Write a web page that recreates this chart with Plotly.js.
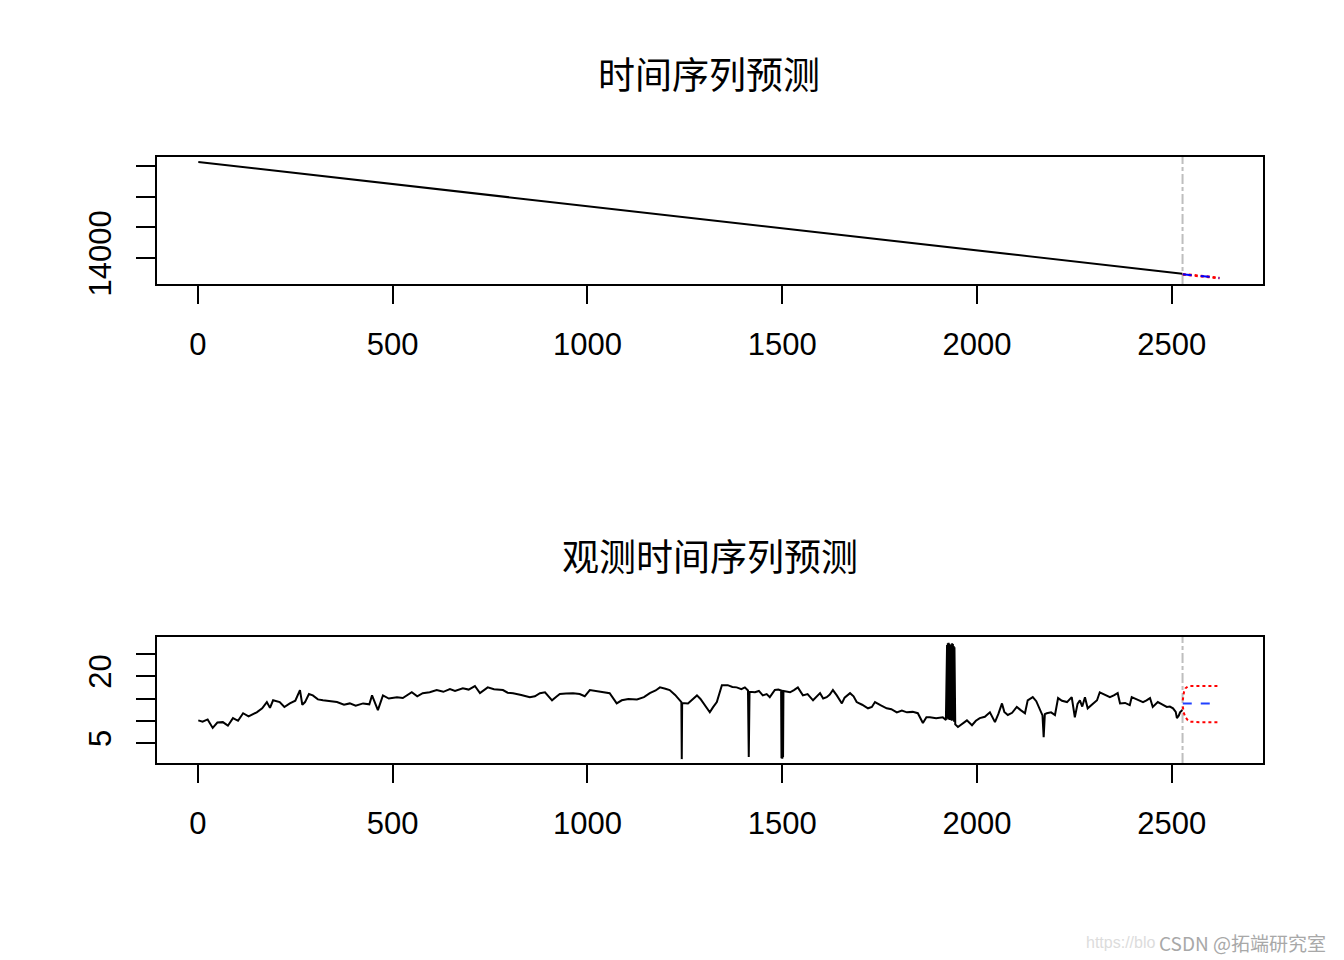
<!DOCTYPE html>
<html>
<head>
<meta charset="utf-8">
<script src="https://cdn.plot.ly/plotly-3.0.1.min.js"></script>
<style>
  html, body { margin: 0; padding: 0; background: #fff; }
  #chart { width: 1344px; height: 960px; }
</style>
</head>
<body>
<div id="chart"></div>
<script>
// top panel: the index series (falls almost in a straight line)
const topX = [1, 632, 1264, 1896, 2527];
const topY = [17130, 16220, 15310, 14400, 13490];
const topFcX = [2528, 2550, 2572, 2595, 2613, 2622];
const topFcMean = [13470, 13450, 13410, 13390, 13360, 13350];
const topFcUpper = [13482, 13462, 13422, 13402, 13372, 13362];
const topFcLower = [13458, 13438, 13398, 13378, 13348, 13338];

// bottom panel: observed series
const obsX = [1, 12, 25, 38, 50, 64, 77, 90, 103, 116, 130, 151, 165, 177, 185, 193,
  210, 222, 236, 250, 262, 268, 275, 285, 295, 308, 321, 340, 357, 375, 390, 405,
  424, 440, 447, 462, 475, 490, 511, 526, 540, 549, 563, 577, 595, 613, 630, 647,
  660, 680, 695, 711, 724, 744, 760, 783, 795, 809, 830, 852, 865, 878, 891, 909,
  920, 929, 945, 963, 980, 993, 1006, 1020, 1032, 1045, 1057, 1075, 1088, 1105, 1127, 1145,
  1160, 1175, 1186, 1200, 1211, 1225, 1236, 1241, 1242, 1243, 1258, 1270, 1281, 1290, 1296, 1305,
  1314, 1322, 1332, 1345, 1360, 1372, 1383, 1395, 1404, 1412, 1414, 1416, 1430, 1440, 1450, 1460,
  1468, 1481, 1490, 1497, 1498, 1499, 1500, 1501, 1502, 1503, 1520, 1530, 1540, 1553, 1565, 1579,
  1590, 1597, 1605, 1614, 1622, 1630, 1640, 1653, 1660, 1674, 1683, 1691, 1705, 1720, 1730, 1738,
  1752, 1768, 1780, 1794, 1807, 1820, 1835, 1848, 1861, 1870, 1879, 1895, 1912, 1920,
  1923, 1924, 1925, 1926, 1927, 1928, 1929, 1930, 1931, 1933, 1934, 1935, 1936, 1937, 1938, 1939,
  1940, 1941, 1942, 1944, 1951, 1962, 1974, 1987, 1997, 2007, 2020, 2033, 2040, 2046, 2055, 2064,
  2070, 2079, 2090, 2102, 2112, 2123, 2130, 2143, 2152, 2161, 2168, 2171, 2174, 2179, 2190, 2200,
  2208, 2218, 2231, 2243, 2251, 2258, 2264, 2270, 2277, 2284, 2295, 2308, 2315, 2328, 2341, 2351,
  2361, 2367, 2380, 2392, 2397, 2410, 2426, 2435, 2444, 2451, 2464, 2475, 2487, 2495, 2503, 2510,
  2513, 2518, 2521, 2527];
const obsY = [10.1, 9.8, 10.3, 8.4, 9.6, 9.7, 8.9, 10.6, 10.0, 11.7, 11.0, 11.9, 12.8, 14.2, 12.9, 14.6,
  14.2, 13.1, 13.9, 14.5, 16.9, 13.6, 14.2, 16.0, 15.7, 14.8, 14.6, 14.4, 14.2, 13.6, 13.9, 13.4,
  13.9, 13.7, 15.7, 12.4, 15.7, 15.0, 15.3, 15.1, 15.8, 16.4, 15.5, 16.2, 16.4, 16.9, 16.5, 17.1,
  16.7, 17.3, 17.0, 17.8, 16.2, 17.5, 17.1, 16.9, 16.3, 16.2, 15.8, 15.3, 15.5, 16.2, 16.4, 14.6,
  15.4, 16.0, 16.1, 16.2, 16.0, 15.5, 16.9, 16.7, 16.4, 16.3, 16.2, 13.9, 14.6, 14.9, 14.8, 15.3,
  16.2, 16.8, 17.5, 17.2, 16.9, 15.8, 14.6, 14.2, 1.4, 14.0, 13.9, 14.8, 15.7, 14.9, 14.2, 13.2,
  11.9, 13.0, 14.2, 18.0, 18.0, 17.6, 17.5, 17.1, 17.5, 16.8, 1.9, 16.5, 16.4, 16.7, 15.7, 16.0,
  15.3, 16.9, 17.0, 16.8, 1.6, 16.8, 1.5, 16.9, 1.8, 16.7, 16.4, 16.9, 17.5, 15.7, 16.0, 14.6,
  15.5, 16.2, 15.0, 15.3, 15.9, 16.9, 15.7, 13.9, 15.2, 16.2, 15.5, 14.2, 13.6, 12.8, 13.1, 14.2,
  13.5, 12.8, 12.6, 11.9, 12.3, 11.9, 12.0, 11.7, 9.5, 10.8, 10.8, 10.6, 10.8, 10.2,
  27.0, 10.5, 27.4, 10.3, 27.5, 10.6, 27.3, 10.2, 27.1, 10.4, 26.9, 10.0, 27.4, 10.3, 27.2, 10.1,
  26.8, 9.8, 26.5, 9.2, 8.6, 9.4, 10.1, 9.0, 10.0, 10.6, 10.9, 11.9, 10.8, 9.7, 11.6, 13.9,
  12.0, 11.3, 11.8, 13.1, 12.4, 11.7, 14.6, 15.3, 14.4, 12.4, 11.2, 6.3, 11.5, 11.7, 11.9, 11.3,
  15.1, 14.5, 14.2, 15.3, 10.8, 13.8, 14.6, 13.2, 15.3, 12.8, 13.6, 14.6, 16.4, 15.8, 15.3, 15.7,
  16.2, 13.9, 14.0, 13.5, 15.3, 14.8, 14.2, 14.6, 15.1, 13.1, 14.2, 13.7, 13.1, 13.2, 12.8, 12.0,
  10.6, 11.2, 11.9, 12.4];

// bottom panel: forecast mean and interval
const fcX = [2528, 2531, 2535, 2541, 2546, 2555, 2570, 2590, 2605, 2620];
const fcMean = [13.9, 13.9, 13.9, 13.9, 13.9, 13.9, 13.9, 13.9, 13.9, 13.9];
const fcUpper = [14.6, 16.4, 17.3, 17.7, 17.8, 17.8, 17.8, 17.8, 17.8, 17.8];
const fcLower = [13.2, 11.7, 10.8, 10.1, 9.8, 9.7, 9.7, 9.7, 9.7, 9.7];

const lastObs = 2527.5;
const xTicks = [0, 500, 1000, 1500, 2000, 2500];
const topYTicks = [14000, 15000, 16000, 17000];
const topYText = ['14000', '', '', ''];
const botYTicks = [5, 10, 15, 20, 25];
const botYText = ['5', '', '', '20', ''];

const tickFont = {family: 'Liberation Sans, Arial, sans-serif', size: 31, color: '#000'};
const titleFont = {family: 'Noto Sans CJK SC, sans-serif', size: 37, color: '#000'};

makeLine = (x, y, xa, ya, color, dash, width) => ({
  x: x, y: y, xaxis: xa, yaxis: ya,
  type: 'scatter', mode: 'lines', hoverinfo: 'skip',
  line: {color: color, dash: dash, width: width}
});

const traces = [
  makeLine(topX, topY, 'x', 'y', '#000', 'solid', 2),
  makeLine(topFcX, topFcUpper, 'x', 'y', '#ff0000', 'dot', 2),
  makeLine(topFcX, topFcLower, 'x', 'y', '#ff0000', 'dot', 2),
  makeLine(topFcX, topFcMean, 'x', 'y', '#0000ff', 'dash', 2),
  makeLine(obsX, obsY, 'x2', 'y2', '#000', 'solid', 2),
  makeLine(fcX, fcUpper, 'x2', 'y2', '#ff0000', 'dot', 2),
  makeLine(fcX, fcLower, 'x2', 'y2', '#ff0000', 'dot', 2),
  makeLine(fcX, fcMean, 'x2', 'y2', '#2040ff', 'dash', 2)
];

const xAxisBase = (anchor) => ({
  anchor: anchor,
  domain: [157 / 1344, 1263 / 1344],
  range: [-105, 2734],
  tickmode: 'array', tickvals: xTicks,
  ticks: 'outside', ticklen: 18, tickwidth: 2, tickcolor: '#000',
  ticklabelstandoff: 14,
  showline: true, linewidth: 2, linecolor: '#000', mirror: true,
  showgrid: false, zeroline: false,
  tickfont: tickFont
});

const yAxisBase = (anchor, domain, range, vals, text) => ({
  anchor: anchor,
  domain: domain,
  range: range,
  tickmode: 'array', tickvals: vals, ticktext: text,
  tickangle: -90,
  ticks: 'outside', ticklen: 19, tickwidth: 2, tickcolor: '#000',
  ticklabelstandoff: 13,
  showline: true, linewidth: 2, linecolor: '#000', mirror: true,
  showgrid: false, zeroline: false,
  tickfont: tickFont
});

const layout = {
  width: 1344, height: 960,
  margin: {l: 0, r: 0, t: 0, b: 0},
  paper_bgcolor: '#fff', plot_bgcolor: '#fff',
  showlegend: false,
  xaxis: xAxisBase('y'),
  yaxis: yAxisBase('x', [(960 - 284) / 960, (960 - 157) / 960], [13156, 17292], topYTicks, topYText),
  xaxis2: xAxisBase('y2'),
  yaxis2: yAxisBase('x2', [(960 - 763) / 960, (960 - 637) / 960], [0.53, 28.8], botYTicks, botYText),
  shapes: [
    {type: 'line', xref: 'x', yref: 'y domain', x0: lastObs, x1: lastObs, y0: 0, y1: 1,
     line: {color: '#bebebe', width: 2, dash: '10px,3px,4px,3px'}, layer: 'below'},
    {type: 'line', xref: 'x2', yref: 'y2 domain', x0: lastObs, x1: lastObs, y0: 0, y1: 1,
     line: {color: '#bebebe', width: 2, dash: '10px,3px,4px,3px'}, layer: 'below'}
  ],
  annotations: [
    {text: '时间序列预测', xref: 'paper', yref: 'paper', x: 709 / 1344, y: (960 - 73) / 960,
     xanchor: 'center', yanchor: 'middle', showarrow: false, font: titleFont},
    {text: '观测时间序列预测', xref: 'paper', yref: 'paper', x: 710 / 1344, y: (960 - 555) / 960,
     xanchor: 'center', yanchor: 'middle', showarrow: false, font: titleFont},
    {text: 'https://blo', xref: 'paper', yref: 'paper', x: 1157 / 1344, y: (960 - 942) / 960,
     xanchor: 'right', yanchor: 'middle', showarrow: false,
     font: {family: 'Liberation Sans, Arial, sans-serif', size: 16, color: '#dcdcdc'}},
    {text: 'CSDN @拓端研究室', xref: 'paper', yref: 'paper', x: 1157 / 1344, y: (960 - 942) / 960,
     xanchor: 'left', yanchor: 'middle', showarrow: false,
     font: {family: 'Noto Sans CJK SC, sans-serif', size: 19, color: '#a8a8a8'}}
  ]
};

Plotly.newPlot('chart', traces, layout, {staticPlot: true});
</script>
</body>
</html>
